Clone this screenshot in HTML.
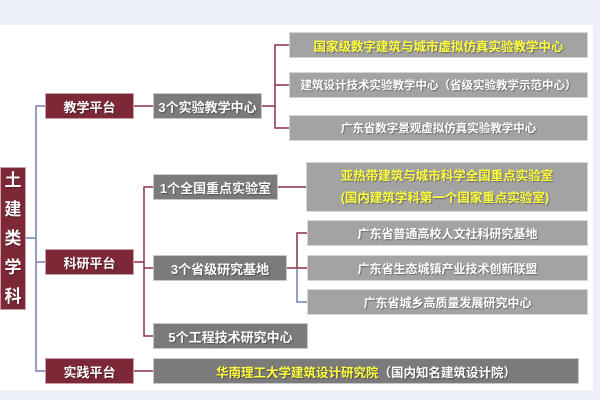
<!DOCTYPE html>
<html><head><meta charset="utf-8"><style>
body{margin:0;width:600px;height:400px;background:#eef0f9;position:relative;overflow:hidden;font-family:"Liberation Sans","Noto Sans CJK SC",sans-serif;}
.p{position:absolute;left:0;top:25px;width:593px;height:365px;background:#fff;}
.b{position:absolute;display:flex;align-items:center;justify-content:center;color:#fff;font-weight:bold;box-sizing:border-box;white-space:nowrap;text-shadow:1px 1px 1px rgba(0,0,0,.35);}
.r{background:#7c2837;border:1px solid #c9a0a8;font-size:13px;}
.g{background:#7b7b7b;border:1px solid #c8c8c8;font-size:13px;}
.l{background:#a3a3a3;border:1px solid #d6d6d6;font-size:12px;}
.y{color:#ffff3c;}
</style></head><body>
<div class="p"></div>
<svg style="position:absolute;left:0;top:0" width="600" height="400">
<g fill="none" stroke-width="1.5">
<path d="M26 238H36M45 106H36V371H45M36 262H45" stroke="#6f80b8"/>
<path d="M134 106H153M262 106H275M289 45H275V128H289M275 85H289" stroke="#8a3040"/>
<path d="M134 262H144M153 187H144V336H153M144 268H153M278 187H306M287 268H307M297 268V233H307" stroke="#8a3040"/>
<path d="M297 268V302H307" stroke="#6f80b8"/>
<path d="M134 371H153" stroke="#8a3040"/>
</g></svg>
<div class="b r" style="left:0;top:167px;width:26px;height:143px;font-size:17px;flex-direction:column;line-height:29px;">土<br>建<br>类<br>学<br>科</div>
<div class="b r" style="left:45px;top:93px;width:89px;height:26px">教学平台</div>
<div class="b r" style="left:45px;top:249px;width:89px;height:26px">科研平台</div>
<div class="b r" style="left:45px;top:358px;width:89px;height:26px">实践平台</div>
<div class="b g" style="left:153px;top:93px;width:109px;height:26px">3个实验教学中心</div>
<div class="b g" style="left:153px;top:174px;width:125px;height:26px">1个全国重点实验室</div>
<div class="b g" style="left:153px;top:255px;width:134px;height:26px">3个省级研究基地</div>
<div class="b g" style="left:153px;top:323px;width:155px;height:26px">5个工程技术研究中心</div>
<div class="b g" style="left:153px;top:358px;width:426px;height:26px;font-size:12.5px"><span class="y">华南理工大学建筑设计研究院</span>（国内知名建筑设计院）</div>
<div class="b l y" style="left:289px;top:32px;width:299px;height:26px;font-size:12.5px">国家级数字建筑与城市虚拟仿真实验教学中心</div>
<div class="b l" style="left:289px;top:72px;width:299px;height:26px;font-size:11.5px">建筑设计技术实验教学中心（省级实验教学示范中心）</div>
<div class="b l" style="left:289px;top:115px;width:299px;height:26px;font-size:11.5px">广东省数字景观虚拟仿真实验教学中心</div>
<div class="b l y" style="left:306px;top:162px;width:282px;height:50px;font-size:12.5px;flex-direction:column;line-height:22px">亚热带建筑与城市科学全国重点实验室<br>(国内建筑学科第一个国家重点实验室)</div>
<div class="b l" style="left:307px;top:220px;width:281px;height:26px">广东省普通高校人文社科研究基地</div>
<div class="b l" style="left:307px;top:255px;width:281px;height:26px">广东省生态城镇产业技术创新联盟</div>
<div class="b l" style="left:307px;top:289px;width:281px;height:26px">广东省城乡高质量发展研究中心</div>
</body></html>
